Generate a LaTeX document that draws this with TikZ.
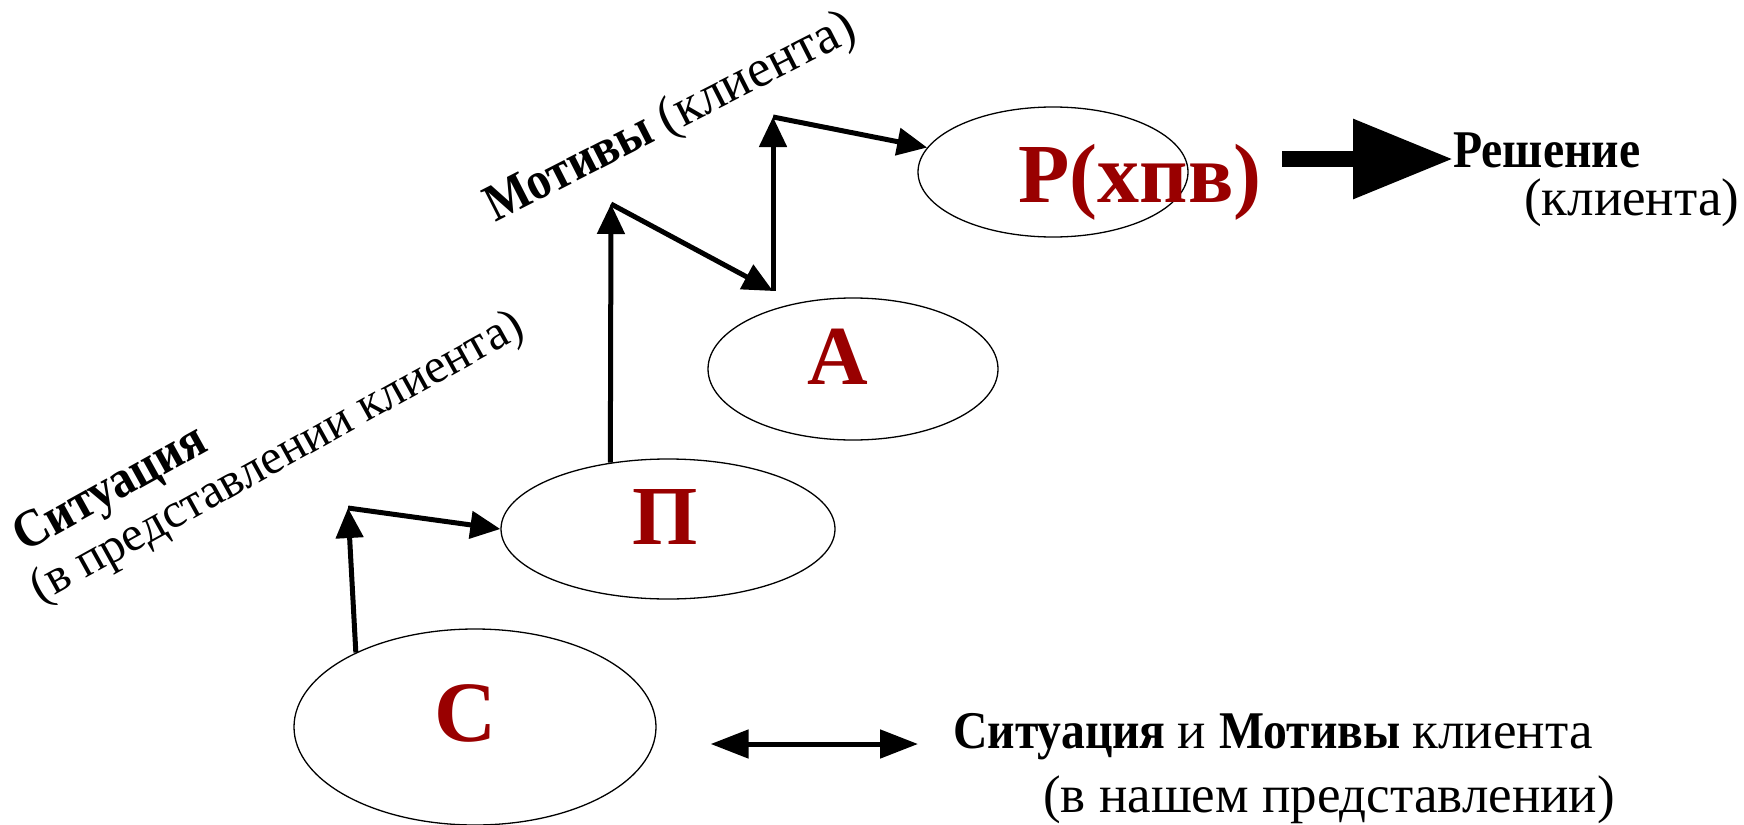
\documentclass[tikz,border=0pt]{standalone}
\usepackage{fontspec}
\setmainfont{Liberation Serif}[BoldFeatures={FakeStretch=0.9}]
\newfontfamily\lblfont{Liberation Serif}
\usetikzlibrary{arrows.meta,shapes.geometric,calc}
\definecolor{lbl}{RGB}{153,0,0}
\tikzset{
  oval/.style={draw,ellipse,line width=1.3pt,inner sep=0pt},
  letter/.style={text=lbl,font=\lblfont\bfseries\fontsize{#1}{#1}\selectfont,inner sep=0pt,anchor=base},
  txt/.style={font=\fontsize{53}{60}\selectfont,inner sep=0pt},
  conn/.style={line width=5pt,-{Triangle[length=30pt,width=27pt]}},
  bigconn/.style={line width=16pt,-{Triangle[length=100pt,width=76pt]}},
  dbl/.style={line width=5pt,{Triangle[length=38pt,width=28pt]}-{Triangle[length=38pt,width=28pt]}}
}
\begin{document}
\begin{tikzpicture}[x=1pt,y=-1pt]
\useasboundingbox (0,0) rectangle (1744,824);
% ellipses
\node[oval,minimum width=362pt,minimum height=196pt] (C) at (475,727) {};
\node[oval,minimum width=334pt,minimum height=140pt] (P) at (668,529) {};
\node[oval,minimum width=290pt,minimum height=142pt] (A) at (853,369) {};
\node[oval,minimum width=270pt,minimum height=130pt] (R) at (1053,172) {};
% letters
\node[letter=86] (Clab) at (466,741) {С};
\node[letter=84] (Plab) at (665,544) {П};
\node[letter=84] (Alab) at (838,384) {А};
\node[letter=84] (Rlab) at (1140,202) {Р(хпв)};
% texts
\node[txt,anchor=base west] (resh) at (1453,167) {\bfseries Решение};
\node[txt,anchor=base west] (reshk) at (1524,215) {(клиента)};
\node[txt,anchor=base west] (sm) at (953,748) {\bfseries Ситуация \mdseries и \bfseries Мотивы \mdseries клиента};
\node[txt,anchor=base west] (smk) at (1043,812) {(в нашем представлении)};
\node[txt,anchor=base west,rotate=27] (mot) at (495,223) {\bfseries Мотивы \mdseries(клиента)};
\node[txt,anchor=base west,rotate=29] (sit) at (24,553) {\bfseries Ситуация};
\node[txt,font=\fontsize{49}{56}\selectfont,anchor=base west,rotate=29] (sitk) at (40,604) {(в представлении клиента)};
% corner points
\coordinate (k1) at (348,508);
\coordinate (k2) at (611,204);
\coordinate (k3) at (773,291);
\coordinate (k4) at (773,117);
\coordinate (bs) at (1282,159);
\coordinate (dy) at (0,744);
% connectors
\draw[conn] (C.148) -- (k1);
\draw[conn] (k1) -- (P.west);
\draw[conn] (P.131) -- (k2);
\draw[conn] (k2) -- (k3);
\draw[conn] (k3) -- (k4);
\draw[conn] (k4) -- (R.169);
\draw[bigconn] (bs) -- (resh.west |- bs);
\draw[dbl] ($(C.east |- dy)+(54,0)$) -- ($(sm.west |- dy)+(-35,0)$);
\end{tikzpicture}
\end{document}
